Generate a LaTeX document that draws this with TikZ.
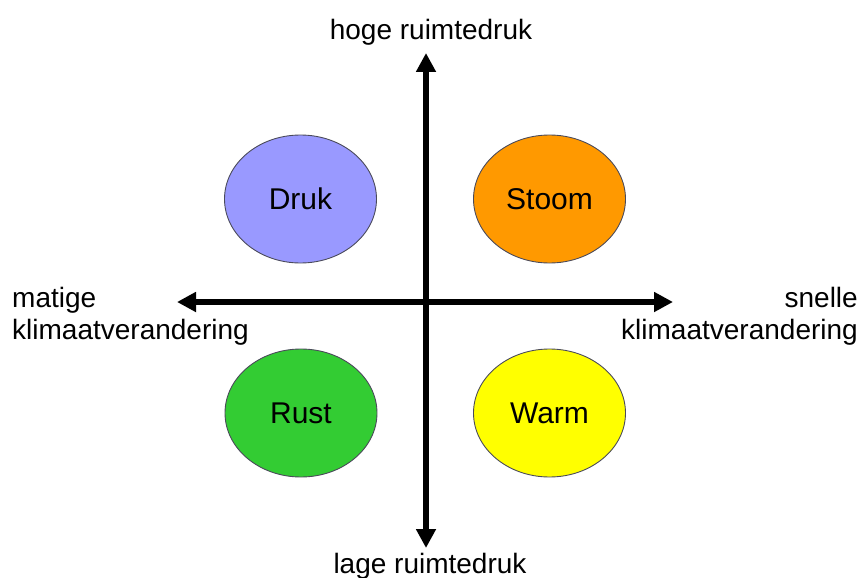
\documentclass[tikz,border=0pt]{standalone}
\usepackage{fontspec}
\setmainfont{Liberation Sans}
\usetikzlibrary{arrows.meta,shapes.geometric}

\definecolor{drukc}{HTML}{9999FF}
\definecolor{stoomc}{HTML}{FF9900}
\definecolor{rustc}{HTML}{33CC33}
\definecolor{warmc}{HTML}{FFFF00}
\definecolor{rimc}{HTML}{4A4A5A}

\begin{document}
\begin{tikzpicture}[x=1pt,y=-1pt,
  axis/.style={line width=5.5pt,-{Triangle[length=19pt,width=19pt]}},
  scen/.style={ellipse,draw=rimc,line width=0.9pt,minimum width=152pt,
    minimum height=128pt,inner sep=0pt,font=\fontsize{30}{34}\selectfont},
  lbl/.style={inner sep=0pt,font=\fontsize{28}{32}\selectfont}]
  \useasboundingbox (0,0) rectangle (863,578);

  % scenario ellipses
  \node[scen,fill=drukc]  (druk)  at (300.5,199) {Druk};
  \node[scen,fill=stoomc] (stoom) at (549.5,199) {Stoom};
  \node[scen,fill=rustc]  (rust)  at (301,413)   {Rust};
  \node[scen,fill=warmc]  (warm)  at (549.5,413) {Warm};

  % axis end points and centre
  \coordinate (c) at (426,302);
  \coordinate (top) at (426,53);
  \coordinate (bot) at (426,548);
  \coordinate (lft) at (177,302);
  \coordinate (rgt) at (673,302);

  \draw[axis] (c) -- (top);
  \draw[axis] (c) -- (bot);
  \draw[axis] (c) -- (lft);
  \draw[axis] (c) -- (rgt);

  % axis labels (base anchor = baseline of the last line)
  \node[lbl,anchor=base] (hoog) at (431,40) {hoge ruimtedruk};
  \node[lbl,anchor=base] (laag) at (430,573) {lage ruimtedruk};
  \node[lbl,anchor=base west,align=left] (matig) at (12,339)
    {matige\\klimaatverandering};
  \node[lbl,anchor=base east,align=right] (snel) at (858,339)
    {snelle\\klimaatverandering};
\end{tikzpicture}
\end{document}
